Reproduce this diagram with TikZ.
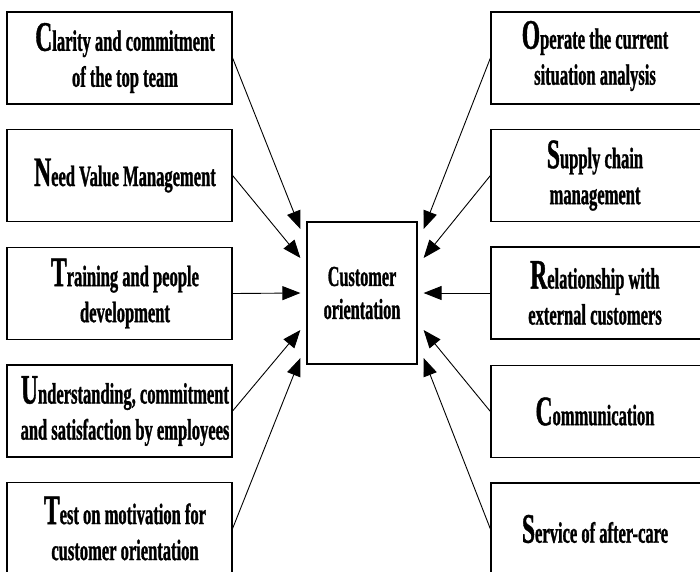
\documentclass[tikz,border=0pt]{standalone}
\usepackage{fontspec}
\setmainfont{Liberation Serif}[FakeStretch=0.56,FakeBold=1]
\usetikzlibrary{arrows.meta}
\newcommand\firstl[1]{{\fontsize{42pt}{42pt}\selectfont #1}}
\begin{document}
\begin{tikzpicture}[x=1pt,y=-1pt,
  box/.style={draw,line width=1.2pt,minimum width=225pt,minimum height=92pt,inner sep=0pt},
  cbox/.style={draw,line width=1.2pt,minimum width=110pt,minimum height=142pt,inner sep=0pt,
    font=\bfseries\fontsize{29pt}{33pt}\selectfont,align=center},
  txt/.style={font=\bfseries\fontsize{29.5pt}{36pt}\selectfont,align=center,inner sep=0pt},
  arr/.style={line width=0.9pt,-{Triangle[length=18pt,width=14pt]}}]
\useasboundingbox (0,0) rectangle (700,571);
\clip (0,0) rectangle (700,571);

% centre
\node[cbox] (C) at (362,293) {Customer\\orientation};

% left boxes
\node[box] (L1) at (119.5,58) {};
\node[box] (L2) at (119.5,175.5) {};
\node[box] (L3) at (119.5,293.5) {};
\node[box] (L4) at (119.5,411) {};
\node[box] (L5) at (119.5,528.5) {};
\node[txt] (L1t) at ([xshift=5.5pt]L1.center) {\firstl{C}larity and commitment\\of the top team};
\node[txt] (L2t) at ([xshift=5.5pt]L2.center) {\firstl{N}eed Value Management};
\node[txt] (L3t) at ([xshift=5.5pt]L3.center) {\firstl{T}raining and people\\development};
\node[txt] (L4t) at ([xshift=5.5pt]L4.center) {\firstl{U}nderstanding, commitment\\and satisfaction by employees};
\node[txt] (L5t) at ([xshift=5.5pt]L5.center) {\firstl{T}est on motivation for\\customer orientation};

% right boxes
\node[box] (R1) at (603.5,58) {};
\node[box] (R2) at (603.5,175.5) {};
\node[box] (R3) at (603.5,293) {};
\node[box] (R4) at (603.5,411.5) {};
\node[box] (R5) at (603.5,529) {};
\node[txt] (R1t) at ([xshift=-8.5pt,yshift=2pt]R1.center) {\firstl{O}perate the current\\situation analysis};
\node[txt] (R2t) at ([xshift=-8.5pt]R2.center) {\firstl{S}upply chain\\management};
\node[txt] (R3t) at ([xshift=-8.5pt]R3.center) {\firstl{R}elationship with\\external customers};
\node[txt] (R4t) at ([xshift=-8.5pt]R4.center) {\firstl{C}ommunication};
\node[txt] (R5t) at ([xshift=-8.5pt]R5.center) {\firstl{S}ervice of after-care};

% arrow tips
\coordinate (a1) at ([xshift=-6pt,yshift=64pt]C.west);
\coordinate (a2) at ([xshift=-6pt,yshift=35pt]C.west);
\coordinate (a3) at ([xshift=-6pt]C.west);
\coordinate (a4) at ([xshift=-6pt,yshift=-37pt]C.west);
\coordinate (a5) at ([xshift=-6pt,yshift=-65pt]C.west);
\coordinate (b1) at ([xshift=6pt,yshift=64pt]C.east);
\coordinate (b2) at ([xshift=6pt,yshift=35pt]C.east);
\coordinate (b3) at ([xshift=6pt]C.east);
\coordinate (b4) at ([xshift=6pt,yshift=-37pt]C.east);
\coordinate (b5) at ([xshift=6pt,yshift=-65pt]C.east);

\draw[arr] (L1.east) -- (a1);
\draw[arr] (L2.east) -- (a2);
\draw[arr] (L3.east) -- (a3);
\draw[arr] (L4.east) -- (a4);
\draw[arr] (L5.east) -- (a5);
\draw[arr] (R1.west) -- (b1);
\draw[arr] (R2.west) -- (b2);
\draw[arr] (R3.west) -- (b3);
\draw[arr] (R4.west) -- (b4);
\draw[arr] (R5.west) -- (b5);
\end{tikzpicture}
\end{document}
